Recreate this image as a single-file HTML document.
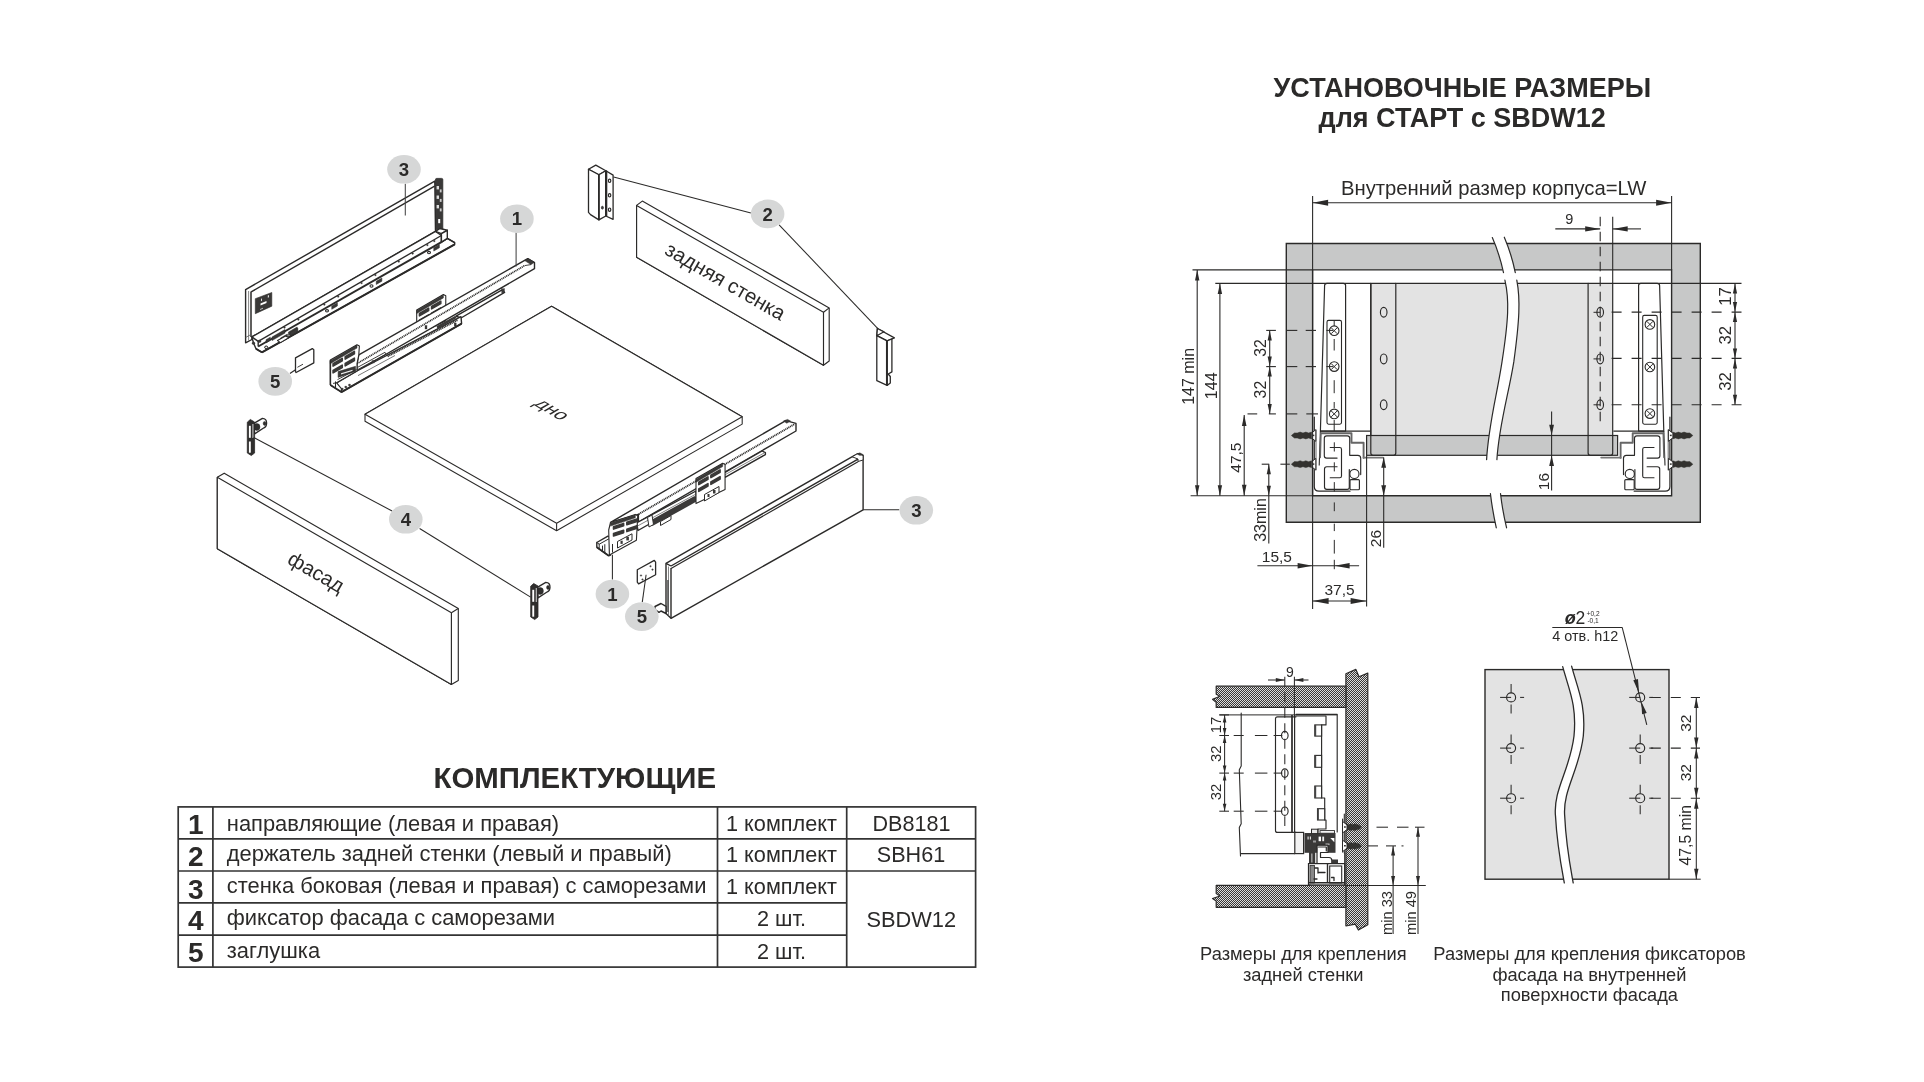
<!DOCTYPE html>
<html><head><meta charset="utf-8"><title>СТАРТ SBDW12</title>
<style>
html,body{margin:0;padding:0;background:#fff;}
body{width:1924px;height:1082px;overflow:hidden;font-family:"Liberation Sans",sans-serif;}
svg{display:block;font-family:"Liberation Sans",sans-serif;will-change:transform;opacity:0.999;}
</style></head><body>
<svg width="1924" height="1082" viewBox="0 0 1924 1082">
<rect width="1924" height="1082" fill="#fff"/>
<text x="574.8" y="788" font-size="29.4" text-anchor="middle" font-weight="bold" fill="#2b2a29" >КОМПЛЕКТУЮЩИЕ</text>
<text x="1462.4" y="96.7" font-size="27" text-anchor="middle" font-weight="bold" fill="#2b2a29" >УСТАНОВОЧНЫЕ РАЗМЕРЫ</text>
<text x="1462.2" y="127.4" font-size="27" text-anchor="middle" font-weight="bold" fill="#2b2a29" >для СТАРТ с SBDW12</text>
<rect x="178.2" y="806.9" width="797.4" height="160.2" rx="0" fill="none" stroke="#333" stroke-width="1.7" />
<line x1="212.9" y1="806.9" x2="212.9" y2="967.1" stroke="#333" stroke-width="1.7" />
<line x1="717.5" y1="806.9" x2="717.5" y2="967.1" stroke="#333" stroke-width="1.7" />
<line x1="846.7" y1="806.9" x2="846.7" y2="967.1" stroke="#333" stroke-width="1.7" />
<line x1="178.2" y1="838.8" x2="975.6" y2="838.8" stroke="#333" stroke-width="1.7" />
<line x1="178.2" y1="871" x2="975.6" y2="871" stroke="#333" stroke-width="1.7" />
<line x1="178.2" y1="902.9" x2="846.7" y2="902.9" stroke="#333" stroke-width="1.7" />
<line x1="178.2" y1="935.1" x2="846.7" y2="935.1" stroke="#333" stroke-width="1.7" />
<text x="195.8" y="833.7" font-size="28" text-anchor="middle" font-weight="bold" fill="#2b2a29" >1</text>
<text x="195.8" y="866.1" font-size="28" text-anchor="middle" font-weight="bold" fill="#2b2a29" >2</text>
<text x="195.8" y="898.5" font-size="28" text-anchor="middle" font-weight="bold" fill="#2b2a29" >3</text>
<text x="195.8" y="929.9" font-size="28" text-anchor="middle" font-weight="bold" fill="#2b2a29" >4</text>
<text x="195.8" y="962.2" font-size="28" text-anchor="middle" font-weight="bold" fill="#2b2a29" >5</text>
<text x="226.8" y="830.6" font-size="21.92" text-anchor="start" fill="#2b2a29" >направляющие (левая и правая)</text>
<text x="226.8" y="860.5" font-size="21.92" text-anchor="start" fill="#2b2a29" >держатель задней стенки (левый и правый)</text>
<text x="226.8" y="892.5" font-size="21.92" text-anchor="start" fill="#2b2a29" >стенка боковая (левая и правая) с саморезами</text>
<text x="226.8" y="924.7" font-size="21.92" text-anchor="start" fill="#2b2a29" >фиксатор фасада с саморезами</text>
<text x="226.8" y="957.8" font-size="21.92" text-anchor="start" fill="#2b2a29" >заглушка</text>
<text x="781.5" y="831" font-size="21.7" text-anchor="middle" fill="#2b2a29" >1 комплект</text>
<text x="781.5" y="861.7" font-size="21.7" text-anchor="middle" fill="#2b2a29" >1 комплект</text>
<text x="781.5" y="893.7" font-size="21.7" text-anchor="middle" fill="#2b2a29" >1 комплект</text>
<text x="781.5" y="926.4" font-size="21.7" text-anchor="middle" fill="#2b2a29" >2 шт.</text>
<text x="781.5" y="959.2" font-size="21.7" text-anchor="middle" fill="#2b2a29" >2 шт.</text>
<text x="911.5" y="831" font-size="21.6" text-anchor="middle" fill="#2b2a29" >DB8181</text>
<text x="911" y="861.8" font-size="21.6" text-anchor="middle" fill="#2b2a29" >SBH61</text>
<text x="911.3" y="927" font-size="21.8" text-anchor="middle" fill="#2b2a29" >SBDW12</text>
<text x="1303.4" y="960.2" font-size="18.3" text-anchor="middle" fill="#2b2a29" >Размеры для крепления</text>
<text x="1303.2" y="980.5" font-size="18.3" text-anchor="middle" fill="#2b2a29" >задней стенки</text>
<text x="1589.6" y="960.2" font-size="18.3" text-anchor="middle" fill="#2b2a29" >Размеры для крепления фиксаторов</text>
<text x="1589.4" y="980.5" font-size="18.3" text-anchor="middle" fill="#2b2a29" >фасада на внутренней</text>
<text x="1589.4" y="1001.1" font-size="18.3" text-anchor="middle" fill="#2b2a29" >поверхности фасада</text>
<path d="M1286.3,243.5 H1700.3 V522.3 H1286.3 Z M1312.6,269.9 V495.8 H1671.6 V269.9 Z" fill="#c7c8c8" fill-rule="evenodd" stroke="#2b2a29" stroke-width="1.4"/>
<rect x="1370.8" y="283.4" width="241.9" height="152.1" rx="0" fill="#e3e3e3" stroke="#2b2a29" stroke-width="0" />
<rect x="1366.6" y="435.5" width="251" height="19.8" rx="0" fill="#c7c8c8" stroke="#2b2a29" stroke-width="1.2" />
<path d="M1320.4,431.1 L1324.6,285.6 Q1324.7,283.4 1327,283.4 L1343.4,283.4 Q1345.6,283.4 1345.6,285.6 L1345.6,431.1 Z" fill="#fff" stroke="#2b2a29" stroke-width="1.2" stroke-linejoin="round" stroke-linecap="round" /><line x1="1320.4" y1="431.1" x2="1319.2" y2="465.4" stroke="#2b2a29" stroke-width="1.1" /><rect x="1327" y="320.4" width="14.5" height="103.8" rx="1.6" fill="#fff" stroke="#2b2a29" stroke-width="1.1" /><circle cx="1334.2" cy="330.7" r="4.8" fill="#fff" stroke="#2b2a29" stroke-width="1.1"/><line x1="1331.22" y1="327.72" x2="1337.18" y2="333.68" stroke="#2b2a29" stroke-width="1" /><line x1="1331.22" y1="333.68" x2="1337.18" y2="327.72" stroke="#2b2a29" stroke-width="1" /><circle cx="1334.2" cy="366.6" r="4.8" fill="#fff" stroke="#2b2a29" stroke-width="1.1"/><line x1="1331.22" y1="363.62" x2="1337.18" y2="369.58" stroke="#2b2a29" stroke-width="1" /><line x1="1331.22" y1="369.58" x2="1337.18" y2="363.62" stroke="#2b2a29" stroke-width="1" /><circle cx="1334.2" cy="413.9" r="4.8" fill="#fff" stroke="#2b2a29" stroke-width="1.1"/><line x1="1331.22" y1="410.92" x2="1337.18" y2="416.88" stroke="#2b2a29" stroke-width="1" /><line x1="1331.22" y1="416.88" x2="1337.18" y2="410.92" stroke="#2b2a29" stroke-width="1" /><line x1="1334.2" y1="339" x2="1334.2" y2="350.5" stroke="#2b2a29" stroke-width="1" /><line x1="1334.2" y1="380.2" x2="1334.2" y2="393.2" stroke="#2b2a29" stroke-width="1" /><line x1="1334.2" y1="402" x2="1334.2" y2="408" stroke="#2b2a29" stroke-width="1" /><line x1="1334.2" y1="321" x2="1334.2" y2="326" stroke="#2b2a29" stroke-width="1" /><line x1="1334.2" y1="420" x2="1334.2" y2="431" stroke="#2b2a29" stroke-width="1" /><line x1="1320.4" y1="431.1" x2="1370.8" y2="431.1" stroke="#2b2a29" stroke-width="1.2" />
<g transform="translate(2984.2 0) scale(-1 1)"><path d="M1320.4,431.1 L1324.6,285.6 Q1324.7,283.4 1327,283.4 L1343.4,283.4 Q1345.6,283.4 1345.6,285.6 L1345.6,431.1 Z" fill="#fff" stroke="#2b2a29" stroke-width="1.2" stroke-linejoin="round" stroke-linecap="round" /><line x1="1320.4" y1="431.1" x2="1319.2" y2="465.4" stroke="#2b2a29" stroke-width="1.1" /><rect x="1327" y="315.4" width="14.5" height="108.8" rx="1.6" fill="#fff" stroke="#2b2a29" stroke-width="1.1" /><circle cx="1334.3" cy="324.4" r="4.8" fill="#fff" stroke="#2b2a29" stroke-width="1.1"/><line x1="1331.32" y1="321.42" x2="1337.28" y2="327.38" stroke="#2b2a29" stroke-width="1" /><line x1="1331.32" y1="327.38" x2="1337.28" y2="321.42" stroke="#2b2a29" stroke-width="1" /><circle cx="1334.3" cy="367" r="4.8" fill="#fff" stroke="#2b2a29" stroke-width="1.1"/><line x1="1331.32" y1="364.02" x2="1337.28" y2="369.98" stroke="#2b2a29" stroke-width="1" /><line x1="1331.32" y1="369.98" x2="1337.28" y2="364.02" stroke="#2b2a29" stroke-width="1" /><circle cx="1334.3" cy="413.6" r="4.8" fill="#fff" stroke="#2b2a29" stroke-width="1.1"/><line x1="1331.32" y1="410.62" x2="1337.28" y2="416.58" stroke="#2b2a29" stroke-width="1" /><line x1="1331.32" y1="416.58" x2="1337.28" y2="410.62" stroke="#2b2a29" stroke-width="1" /><line x1="1320.4" y1="431.1" x2="1370.8" y2="431.1" stroke="#2b2a29" stroke-width="1.2" /></g>
<line x1="1215.3" y1="283.4" x2="1741.5" y2="283.4" stroke="#2b2a29" stroke-width="1.2" />
<path d="M1370.8,283.4 L1370.8,453 Q1370.8,455.3 1373.1,455.3 L1393.5,455.3 Q1395.8,455.3 1395.8,453 L1395.8,283.4" fill="none" stroke="#2b2a29" stroke-width="1.2" stroke-linejoin="round" stroke-linecap="round" />
<path d="M1588.1,283.4 L1588.1,453 Q1588.1,455.3 1590.4,455.3 L1610.4,455.3 Q1612.7,455.3 1612.7,453 L1612.7,283.4" fill="none" stroke="#2b2a29" stroke-width="1.2" stroke-linejoin="round" stroke-linecap="round" />
<line x1="1370.8" y1="283.4" x2="1370.8" y2="436" stroke="#2b2a29" stroke-width="1.3" />
<ellipse cx="1383.7" cy="312.3" rx="3.3" ry="4.9" fill="none" stroke="#2b2a29" stroke-width="1.15"/>
<ellipse cx="1600.2" cy="312.3" rx="3.3" ry="4.9" fill="none" stroke="#2b2a29" stroke-width="1.15"/>
<line x1="1593.5" y1="312.3" x2="1600.2" y2="312.3" stroke="#2b2a29" stroke-width="1" />
<ellipse cx="1383.7" cy="358.9" rx="3.3" ry="4.9" fill="none" stroke="#2b2a29" stroke-width="1.15"/>
<ellipse cx="1600.2" cy="358.9" rx="3.3" ry="4.9" fill="none" stroke="#2b2a29" stroke-width="1.15"/>
<line x1="1593.5" y1="358.9" x2="1600.2" y2="358.9" stroke="#2b2a29" stroke-width="1" />
<ellipse cx="1383.7" cy="404.8" rx="3.3" ry="4.9" fill="none" stroke="#2b2a29" stroke-width="1.15"/>
<ellipse cx="1600.2" cy="404.8" rx="3.3" ry="4.9" fill="none" stroke="#2b2a29" stroke-width="1.15"/>
<line x1="1593.5" y1="404.8" x2="1600.2" y2="404.8" stroke="#2b2a29" stroke-width="1" />
<path d="M1320.9,433.3 L1351.5,433.3 L1351.5,442.7 L1363.6,442.7 L1363.6,457.9" fill="none" stroke="#666" stroke-width="1.9" stroke-linejoin="round" stroke-linecap="round" /><path d="M1320.9,433.3 L1320.2,457.4" fill="none" stroke="#666" stroke-width="1.6" stroke-linejoin="round" stroke-linecap="round" /><path d="M1363.6,457.6 L1383,457.6" fill="none" stroke="#777" stroke-width="1.8" stroke-linejoin="round" stroke-linecap="round" /><path d="M1314.3,417 L1314.3,486.5 Q1314.3,491.2 1319,491.2 L1350,491.2" fill="none" stroke="#2b2a29" stroke-width="1.2" stroke-linejoin="round" stroke-linecap="round" /><path d="M1316,430 L1316,470" fill="none" stroke="#555" stroke-width="0.9" stroke-linejoin="round" stroke-linecap="round" /><path d="M1337.1,458.1 L1326.6,458.1 Q1324.3,458.1 1324.3,455.8 L1324.3,438.2 Q1324.3,435.8 1326.7,435.8 L1347.4,435.8 Q1349.7,435.8 1349.7,438.2 L1349.7,455.3 L1357.8,455.3 Q1360.7,455.3 1360.7,458.3 L1360.7,474.6" fill="none" stroke="#2b2a29" stroke-width="1.15" stroke-linejoin="round" stroke-linecap="round" /><path d="M1330.2,447.5 L1339.7,447.5 Q1341.5,447.5 1341.5,449.3 L1341.5,475.9 Q1341.5,477.7 1339.7,477.7 L1330.2,477.7" fill="none" stroke="#2b2a29" stroke-width="1.15" stroke-linejoin="round" stroke-linecap="round" /><path d="M1337.1,466.7 L1326.8,466.7 Q1324.5,466.7 1324.5,469 L1324.5,487 Q1324.5,489.3 1326.8,489.3 L1347.2,489.3 Q1349.3,489.3 1349.3,487.2 L1349.3,469.5" fill="none" stroke="#2b2a29" stroke-width="1.15" stroke-linejoin="round" stroke-linecap="round" /><circle cx="1354.4" cy="473.9" r="4.6" fill="#fff" stroke="#2b2a29" stroke-width="1.15"/><rect x="1350" y="479.6" width="9.4" height="10.1" rx="1" fill="#fff" stroke="#2b2a29" stroke-width="1.15" />
<g transform="translate(2984.2 0) scale(-1 1)"><path d="M1320.9,433.3 L1351.5,433.3 L1351.5,442.7 L1363.6,442.7 L1363.6,457.9" fill="none" stroke="#666" stroke-width="1.9" stroke-linejoin="round" stroke-linecap="round" /><path d="M1320.9,433.3 L1320.2,457.4" fill="none" stroke="#666" stroke-width="1.6" stroke-linejoin="round" stroke-linecap="round" /><path d="M1363.6,457.6 L1383,457.6" fill="none" stroke="#777" stroke-width="1.8" stroke-linejoin="round" stroke-linecap="round" /><path d="M1314.3,417 L1314.3,486.5 Q1314.3,491.2 1319,491.2 L1350,491.2" fill="none" stroke="#2b2a29" stroke-width="1.2" stroke-linejoin="round" stroke-linecap="round" /><path d="M1316,430 L1316,470" fill="none" stroke="#555" stroke-width="0.9" stroke-linejoin="round" stroke-linecap="round" /><path d="M1337.1,458.1 L1326.6,458.1 Q1324.3,458.1 1324.3,455.8 L1324.3,438.2 Q1324.3,435.8 1326.7,435.8 L1347.4,435.8 Q1349.7,435.8 1349.7,438.2 L1349.7,455.3 L1357.8,455.3 Q1360.7,455.3 1360.7,458.3 L1360.7,474.6" fill="none" stroke="#2b2a29" stroke-width="1.15" stroke-linejoin="round" stroke-linecap="round" /><path d="M1330.2,447.5 L1339.7,447.5 Q1341.5,447.5 1341.5,449.3 L1341.5,475.9 Q1341.5,477.7 1339.7,477.7 L1330.2,477.7" fill="none" stroke="#2b2a29" stroke-width="1.15" stroke-linejoin="round" stroke-linecap="round" /><path d="M1337.1,466.7 L1326.8,466.7 Q1324.5,466.7 1324.5,469 L1324.5,487 Q1324.5,489.3 1326.8,489.3 L1347.2,489.3 Q1349.3,489.3 1349.3,487.2 L1349.3,469.5" fill="none" stroke="#2b2a29" stroke-width="1.15" stroke-linejoin="round" stroke-linecap="round" /><circle cx="1354.4" cy="473.9" r="4.6" fill="#fff" stroke="#2b2a29" stroke-width="1.15"/><rect x="1350" y="479.6" width="9.4" height="10.1" rx="1" fill="#fff" stroke="#2b2a29" stroke-width="1.15" /></g>
<polygon points="1291.6,435.2 1294.44,432.91 1297.29,433 1300.13,432.1 1302.97,433 1305.81,432.1 1308.66,433 1311.5,432.1 1311.5,438.9 1308.66,438 1305.81,438.9 1302.97,438 1300.13,438.9 1297.29,438 1294.44,438.09 1291.6,435.8" fill="#33322f" stroke="#33322f" stroke-width="0.5" stroke-linejoin="round" /><polygon points="1311.3,433.2 1315.8,429.7 1315.8,441.3 1311.3,437.8" fill="#fff" stroke="#2b2a29" stroke-width="1" stroke-linejoin="round" /><line x1="1312.5" y1="435.4" x2="1314.3" y2="435.4" stroke="#33322f" stroke-width="1.5" />
<polygon points="1692.6,435.2 1689.76,432.91 1686.91,433 1684.07,432.1 1681.23,433 1678.39,432.1 1675.54,433 1672.7,432.1 1672.7,438.9 1675.54,438 1678.39,438.9 1681.23,438 1684.07,438.9 1686.91,438 1689.76,438.09 1692.6,435.8" fill="#33322f" stroke="#33322f" stroke-width="0.5" stroke-linejoin="round" /><polygon points="1672.9,433.2 1668.4,429.7 1668.4,441.3 1672.9,437.8" fill="#fff" stroke="#2b2a29" stroke-width="1" stroke-linejoin="round" /><line x1="1671.7" y1="435.4" x2="1669.9" y2="435.4" stroke="#33322f" stroke-width="1.5" />
<polygon points="1291.6,463.9 1294.44,461.61 1297.29,461.7 1300.13,460.8 1302.97,461.7 1305.81,460.8 1308.66,461.7 1311.5,460.8 1311.5,467.6 1308.66,466.7 1305.81,467.6 1302.97,466.7 1300.13,467.6 1297.29,466.7 1294.44,466.79 1291.6,464.5" fill="#33322f" stroke="#33322f" stroke-width="0.5" stroke-linejoin="round" /><polygon points="1311.3,461.9 1315.8,458.4 1315.8,470 1311.3,466.5" fill="#fff" stroke="#2b2a29" stroke-width="1" stroke-linejoin="round" /><line x1="1312.5" y1="464.1" x2="1314.3" y2="464.1" stroke="#33322f" stroke-width="1.5" />
<polygon points="1692.6,463.9 1689.76,461.61 1686.91,461.7 1684.07,460.8 1681.23,461.7 1678.39,460.8 1675.54,461.7 1672.7,460.8 1672.7,467.6 1675.54,466.7 1678.39,467.6 1681.23,466.7 1684.07,467.6 1686.91,466.7 1689.76,466.79 1692.6,464.5" fill="#33322f" stroke="#33322f" stroke-width="0.5" stroke-linejoin="round" /><polygon points="1672.9,461.9 1668.4,458.4 1668.4,470 1672.9,466.5" fill="#fff" stroke="#2b2a29" stroke-width="1" stroke-linejoin="round" /><line x1="1671.7" y1="464.1" x2="1669.9" y2="464.1" stroke="#33322f" stroke-width="1.5" />
<line x1="1334.3" y1="442.3" x2="1334.3" y2="451.5" stroke="#2b2a29" stroke-width="1" />
<line x1="1334.3" y1="462.3" x2="1334.3" y2="471.4" stroke="#2b2a29" stroke-width="1" />
<line x1="1334.3" y1="482.1" x2="1334.3" y2="491.5" stroke="#2b2a29" stroke-width="1" />
<line x1="1334.3" y1="502.4" x2="1334.3" y2="511.2" stroke="#2b2a29" stroke-width="1" />
<line x1="1334.3" y1="523.7" x2="1334.3" y2="531.1" stroke="#2b2a29" stroke-width="1" />
<line x1="1334.3" y1="539.9" x2="1334.3" y2="553.6" stroke="#2b2a29" stroke-width="1" />
<line x1="1334.3" y1="559.8" x2="1334.3" y2="569.2" stroke="#2b2a29" stroke-width="1" />
<path d="M1494.2,241.5 L1496,247 L1499.6,258 L1502.6,270.6 L1502.6,271.2 L1514.4,271.2 L1514.4,270.6 L1511.4,258 L1508,247 L1506.2,241.5 Z" fill="#fff" stroke="none"/>
<path d="M1492.3,237.6 Q1499.5,254 1503.5,272.6" fill="none" stroke="#2b2a29" stroke-width="1.2" stroke-linejoin="round" stroke-linecap="round" />
<path d="M1504.3,237.2 Q1511.5,254 1515.3,272.6" fill="none" stroke="#2b2a29" stroke-width="1.2" stroke-linejoin="round" stroke-linecap="round" />
<path d="M1504.9,280.2 C1509.5,300 1508.5,320 1502,361.9 C1497,395 1488.5,425 1486.6,459.6 L1496.9,459.6 C1499,425 1508.5,395 1513.8,361.9 C1519.5,320 1520.5,300 1516.8,280.2 Z" fill="#fff"/>
<path d="M1504.9,280.2 C1509.5,300 1508.5,320 1502,361.9 C1497,395 1488.5,425 1486.6,459.6" fill="none" stroke="#2b2a29" stroke-width="1.2" stroke-linejoin="round" stroke-linecap="round" />
<path d="M1516.8,280.2 C1520.5,300 1519.5,320 1513.8,361.9 C1508.5,395 1499,425 1496.9,459.6" fill="none" stroke="#2b2a29" stroke-width="1.2" stroke-linejoin="round" stroke-linecap="round" />
<path d="M1490.6,494.9 Q1492.5,511 1496.3,527.6 L1506.6,527.6 Q1502.5,511 1500.7,494.9 Z" fill="#fff"/>
<path d="M1490.4,493.5 Q1492.5,511 1496.3,527.8" fill="none" stroke="#2b2a29" stroke-width="1.2" stroke-linejoin="round" stroke-linecap="round" />
<path d="M1500.5,493.5 Q1502.5,511 1506.6,527.8" fill="none" stroke="#2b2a29" stroke-width="1.2" stroke-linejoin="round" stroke-linecap="round" />
<line x1="1312.6" y1="196" x2="1312.6" y2="609" stroke="#2b2a29" stroke-width="1.1" />
<line x1="1671.6" y1="196" x2="1671.6" y2="270" stroke="#2b2a29" stroke-width="1.1" />
<line x1="1312.6" y1="202.8" x2="1671.6" y2="202.8" stroke="#2b2a29" stroke-width="1.1" />
<polygon points="1312.6,202.8 1328.1,199.8 1328.1,205.8" fill="#2b2a29"/>
<polygon points="1671.6,202.8 1656.1,205.8 1656.1,199.8" fill="#2b2a29"/>
<text x="1341" y="194.7" font-size="20.25" text-anchor="start" fill="#2b2a29" >Внутренний размер корпуса=LW</text>
<line x1="1600.2" y1="216.8" x2="1600.2" y2="424" stroke="#2b2a29" stroke-width="1.1" stroke-dasharray="9.5 5.5" stroke-dashoffset="0"/>
<line x1="1612.7" y1="216.8" x2="1612.7" y2="283.4" stroke="#2b2a29" stroke-width="1.1" />
<line x1="1555.3" y1="228.9" x2="1600.2" y2="228.9" stroke="#2b2a29" stroke-width="1.1" />
<line x1="1612.7" y1="228.9" x2="1641" y2="228.9" stroke="#2b2a29" stroke-width="1.1" />
<polygon points="1600.2,228.9 1585.2,231.5 1585.2,226.3" fill="#2b2a29"/>
<polygon points="1612.7,228.9 1627.7,226.3 1627.7,231.5" fill="#2b2a29"/>
<text x="1569.4" y="224.3" font-size="14.5" text-anchor="middle" fill="#2b2a29" >9</text>
<line x1="1192.5" y1="269.9" x2="1312.6" y2="269.9" stroke="#2b2a29" stroke-width="1.1" />
<line x1="1190.6" y1="495.8" x2="1312.6" y2="495.8" stroke="#2b2a29" stroke-width="1.1" />
<line x1="1197.2" y1="269.9" x2="1197.2" y2="495.8" stroke="#2b2a29" stroke-width="1.1" />
<polygon points="1197.2,269.9 1199.4,280.4 1195,280.4" fill="#2b2a29"/>
<polygon points="1197.2,495.8 1195,485.3 1199.4,485.3" fill="#2b2a29"/>
<line x1="1219.9" y1="283.4" x2="1219.9" y2="495.8" stroke="#2b2a29" stroke-width="1.1" />
<polygon points="1219.9,283.4 1222.1,293.9 1217.7,293.9" fill="#2b2a29"/>
<polygon points="1219.9,495.8 1217.7,485.3 1222.1,485.3" fill="#2b2a29"/>
<text x="1194.2" y="376.4" font-size="16" text-anchor="middle" transform="rotate(-90 1194.2 376.4)" fill="#2b2a29" >147 min</text>
<text x="1217.4" y="385.8" font-size="16" text-anchor="middle" transform="rotate(-90 1217.4 385.8)" fill="#2b2a29" >144</text>
<line x1="1266.2" y1="330.4" x2="1275.9" y2="330.4" stroke="#2b2a29" stroke-width="1.1" />
<line x1="1286.9" y1="330.4" x2="1297.3" y2="330.4" stroke="#2b2a29" stroke-width="1.1" />
<line x1="1305.7" y1="330.4" x2="1316" y2="330.4" stroke="#2b2a29" stroke-width="1.1" />
<line x1="1266.2" y1="366.6" x2="1275.9" y2="366.6" stroke="#2b2a29" stroke-width="1.1" />
<line x1="1286.9" y1="366.6" x2="1297.3" y2="366.6" stroke="#2b2a29" stroke-width="1.1" />
<line x1="1305.7" y1="366.6" x2="1316" y2="366.6" stroke="#2b2a29" stroke-width="1.1" />
<line x1="1247.5" y1="413.9" x2="1257.2" y2="413.9" stroke="#2b2a29" stroke-width="1.1" />
<line x1="1268.8" y1="413.9" x2="1275.9" y2="413.9" stroke="#2b2a29" stroke-width="1.1" />
<line x1="1286.9" y1="413.9" x2="1297.3" y2="413.9" stroke="#2b2a29" stroke-width="1.1" />
<line x1="1306.3" y1="413.9" x2="1318" y2="413.9" stroke="#2b2a29" stroke-width="1.1" />
<line x1="1326.4" y1="330.4" x2="1333" y2="330.4" stroke="#2b2a29" stroke-width="1" />
<line x1="1326.4" y1="366.6" x2="1333" y2="366.6" stroke="#2b2a29" stroke-width="1" />
<line x1="1269.7" y1="330.4" x2="1269.7" y2="413.9" stroke="#2b2a29" stroke-width="1.1" />
<polygon points="1269.7,330.4 1271.8,340.4 1267.6,340.4" fill="#2b2a29"/>
<polygon points="1269.7,366.6 1267.6,356.6 1271.8,356.6" fill="#2b2a29"/>
<polygon points="1269.7,366.6 1271.8,376.6 1267.6,376.6" fill="#2b2a29"/>
<polygon points="1269.7,413.9 1267.6,403.9 1271.8,403.9" fill="#2b2a29"/>
<text x="1265.8" y="347.9" font-size="15.8" text-anchor="middle" transform="rotate(-90 1265.8 347.9)" fill="#2b2a29" >32</text>
<text x="1265.8" y="389.6" font-size="15.8" text-anchor="middle" transform="rotate(-90 1265.8 389.6)" fill="#2b2a29" >32</text>
<line x1="1244.2" y1="414.9" x2="1244.2" y2="495.8" stroke="#2b2a29" stroke-width="1.1" />
<polygon points="1244.2,414.9 1246.5,425.9 1241.9,425.9" fill="#2b2a29"/>
<polygon points="1244.2,495.8 1241.9,484.8 1246.5,484.8" fill="#2b2a29"/>
<text x="1241" y="457.6" font-size="15.5" text-anchor="middle" transform="rotate(-90 1241 457.6)" fill="#2b2a29" >47,5</text>
<line x1="1261.7" y1="464.2" x2="1269.2" y2="464.2" stroke="#2b2a29" stroke-width="1.1" />
<line x1="1280.4" y1="464.2" x2="1289.8" y2="464.2" stroke="#2b2a29" stroke-width="1.1" />
<line x1="1268.8" y1="464.2" x2="1268.8" y2="543.6" stroke="#2b2a29" stroke-width="1.1" />
<polygon points="1268.8,464.2 1270.9,474.2 1266.7,474.2" fill="#2b2a29"/>
<polygon points="1268.8,495.8 1266.7,485.8 1270.9,485.8" fill="#2b2a29"/>
<text x="1266.4" y="520" font-size="16" text-anchor="middle" transform="rotate(-90 1266.4 520)" fill="#2b2a29" >33min</text>
<line x1="1383.7" y1="457.5" x2="1383.7" y2="547.7" stroke="#2b2a29" stroke-width="1.1" />
<polygon points="1383.7,457.3 1386.1,467.8 1381.3,467.8" fill="#2b2a29"/>
<polygon points="1383.7,495.8 1381.3,485.3 1386.1,485.3" fill="#2b2a29"/>
<text x="1381.2" y="538.6" font-size="15.5" text-anchor="middle" transform="rotate(-90 1381.2 538.6)" fill="#2b2a29" >26</text>
<line x1="1366.6" y1="455.3" x2="1366.6" y2="606.6" stroke="#2b2a29" stroke-width="1.1" />
<line x1="1257.4" y1="565.8" x2="1359.1" y2="565.8" stroke="#2b2a29" stroke-width="1.1" />
<polygon points="1312.6,565.8 1297.6,568.6 1297.6,563" fill="#2b2a29"/>
<polygon points="1334.6,565.8 1349.6,563 1349.6,568.6" fill="#2b2a29"/>
<text x="1261.8" y="561.7" font-size="15.5" text-anchor="start" fill="#2b2a29" >15,5</text>
<line x1="1312.6" y1="601" x2="1366.6" y2="601" stroke="#2b2a29" stroke-width="1.1" />
<polygon points="1312.6,601 1328.6,598.1 1328.6,603.9" fill="#2b2a29"/>
<polygon points="1366.6,601 1350.6,603.9 1350.6,598.1" fill="#2b2a29"/>
<text x="1339.5" y="595.4" font-size="15.5" text-anchor="middle" fill="#2b2a29" >37,5</text>
<line x1="1551.6" y1="411.5" x2="1551.6" y2="490.5" stroke="#2b2a29" stroke-width="1.1" />
<polygon points="1551.6,435.2 1549.2,424.7 1554,424.7" fill="#2b2a29"/>
<polygon points="1551.6,455.5 1554,466 1549.2,466" fill="#2b2a29"/>
<text x="1549.2" y="481.6" font-size="15.5" text-anchor="middle" transform="rotate(-90 1549.2 481.6)" fill="#2b2a29" >16</text>
<line x1="1611.6" y1="312.1" x2="1741.5" y2="312.1" stroke="#2b2a29" stroke-width="1.1" stroke-dasharray="10 10" stroke-dashoffset="0"/>
<line x1="1611.6" y1="358.4" x2="1741.5" y2="358.4" stroke="#2b2a29" stroke-width="1.1" stroke-dasharray="10 10" stroke-dashoffset="0"/>
<line x1="1611.6" y1="404.8" x2="1741.5" y2="404.8" stroke="#2b2a29" stroke-width="1.1" stroke-dasharray="10 10" stroke-dashoffset="0"/>
<line x1="1735" y1="283.4" x2="1735" y2="404.8" stroke="#2b2a29" stroke-width="1.1" />
<polygon points="1735,283.4 1737.1,293.4 1732.9,293.4" fill="#2b2a29"/>
<polygon points="1735,312.1 1732.9,302.1 1737.1,302.1" fill="#2b2a29"/>
<polygon points="1735,312.1 1737.1,322.1 1732.9,322.1" fill="#2b2a29"/>
<polygon points="1735,358.4 1732.9,348.4 1737.1,348.4" fill="#2b2a29"/>
<polygon points="1735,358.4 1737.1,368.4 1732.9,368.4" fill="#2b2a29"/>
<polygon points="1735,404.8 1732.9,394.8 1737.1,394.8" fill="#2b2a29"/>
<text x="1731.3" y="296.4" font-size="16.8" text-anchor="middle" transform="rotate(-90 1731.3 296.4)" fill="#2b2a29" >17</text>
<text x="1731.3" y="335.2" font-size="16.8" text-anchor="middle" transform="rotate(-90 1731.3 335.2)" fill="#2b2a29" >32</text>
<text x="1731.3" y="381.4" font-size="16.8" text-anchor="middle" transform="rotate(-90 1731.3 381.4)" fill="#2b2a29" >32</text>
<defs>
<pattern id="hatch" width="2" height="2" patternUnits="userSpaceOnUse">
<rect width="2" height="2" fill="#dcdcdc"/><rect x="0" y="1" width="1" height="1" fill="#383736" shape-rendering="crispEdges"/><rect x="1" y="0" width="1" height="1" fill="#383736" shape-rendering="crispEdges"/>
</pattern></defs>
<polygon points="1345.9,673.7 1355.9,669.4 1359,676.8 1367.8,673.1 1367.8,924.7 1358.4,930 1355.3,924.1 1345.9,926" fill="url(#hatch)" stroke="#2b2a29" stroke-width="1.2" stroke-linejoin="round" />
<polygon points="1216.2,686.2 1345.9,686.2 1345.9,707.4 1216.2,707.4 1216.2,702.4 1212.5,699.3 1220,696.2 1216.2,694.3" fill="url(#hatch)" stroke="#2b2a29" stroke-width="1.2" stroke-linejoin="round" />
<polygon points="1216.2,885.4 1345.9,885.4 1345.9,907.3 1216.2,907.3 1216.2,901 1212.5,898.5 1220,896 1216.2,893.5" fill="url(#hatch)" stroke="#2b2a29" stroke-width="1.2" stroke-linejoin="round" />
<line x1="1219.3" y1="714.9" x2="1337.2" y2="714.9" stroke="#2b2a29" stroke-width="1" />
<path d="M1241.2,713 L1241.2,766 L1239.3,769.8 L1241.2,823.7 L1239.3,827.4 L1240.5,856" fill="none" stroke="#2b2a29" stroke-width="1.1" stroke-linejoin="round" stroke-linecap="round" />
<line x1="1240.5" y1="853.6" x2="1295" y2="853.6" stroke="#2b2a29" stroke-width="1.2" />
<path d="M1296,716.8 L1277.5,716.8 Q1275.5,716.8 1275.5,718.8 L1275.5,830.4 Q1275.5,832.4 1277.5,832.4 L1296,832.4" fill="#fff" stroke="#2b2a29" stroke-width="1.15" stroke-linejoin="round" stroke-linecap="round" />
<line x1="1292" y1="714.9" x2="1292" y2="832.4" stroke="#2b2a29" stroke-width="1.7" />
<line x1="1294.6" y1="714.9" x2="1294.6" y2="832.4" stroke="#2b2a29" stroke-width="1.2" />
<path d="M1296,714.3 L1337.2,714.3 L1337.2,832" fill="none" stroke="#2b2a29" stroke-width="1.15" stroke-linejoin="round" stroke-linecap="round" />
<path d="M1296,716 L1326,716 L1326,724.9 L1321.6,724.9 L1321.6,736.1 L1321.6,755.4 L1321.6,767.3 L1321.6,786 L1321.6,798 L1324.7,798 L1324.7,808.7 L1324.7,820 L1326,820 L1326,829 L1318,829 L1318,832.4" fill="none" stroke="#2b2a29" stroke-width="1.15" stroke-linejoin="round" stroke-linecap="round" />
<rect x="1314.8" y="724.9" width="6.8" height="11.2" rx="0" fill="#fff" stroke="#2b2a29" stroke-width="1.1" />
<line x1="1315.4" y1="724.9" x2="1315.4" y2="736.1" stroke="#444" stroke-width="1.6" />
<rect x="1314.8" y="755.4" width="6.8" height="11.9" rx="0" fill="#fff" stroke="#2b2a29" stroke-width="1.1" />
<line x1="1315.4" y1="755.4" x2="1315.4" y2="767.3" stroke="#444" stroke-width="1.6" />
<rect x="1314.8" y="786" width="6.8" height="12" rx="0" fill="#fff" stroke="#2b2a29" stroke-width="1.1" />
<line x1="1315.4" y1="786" x2="1315.4" y2="798" stroke="#444" stroke-width="1.6" />
<rect x="1317.5" y="808.7" width="7.2" height="11.3" rx="0" fill="#fff" stroke="#2b2a29" stroke-width="1.1" />
<line x1="1318.1" y1="808.7" x2="1318.1" y2="820" stroke="#444" stroke-width="1.6" />
<ellipse cx="1284.8" cy="735.5" rx="3.3" ry="4.2" fill="none" stroke="#2b2a29" stroke-width="1.15"/>
<ellipse cx="1284.8" cy="773.1" rx="3.3" ry="4.2" fill="none" stroke="#2b2a29" stroke-width="1.15"/>
<ellipse cx="1284.8" cy="811.2" rx="3.3" ry="4.2" fill="none" stroke="#2b2a29" stroke-width="1.15"/>
<line x1="1284.8" y1="676.8" x2="1284.8" y2="826" stroke="#2b2a29" stroke-width="1.05" stroke-dasharray="10 5.5" stroke-dashoffset="0"/>
<line x1="1294.4" y1="676.8" x2="1294.4" y2="714.9" stroke="#2b2a29" stroke-width="1.05" />
<line x1="1219.3" y1="735.5" x2="1229" y2="735.5" stroke="#2b2a29" stroke-width="1.05" />
<line x1="1233.7" y1="735.5" x2="1243.7" y2="735.5" stroke="#2b2a29" stroke-width="1.05" />
<line x1="1254.9" y1="735.5" x2="1267.4" y2="735.5" stroke="#2b2a29" stroke-width="1.05" />
<line x1="1273.6" y1="735.5" x2="1282.3" y2="735.5" stroke="#2b2a29" stroke-width="1.05" />
<line x1="1219.3" y1="773.1" x2="1229" y2="773.1" stroke="#2b2a29" stroke-width="1.05" />
<line x1="1233.7" y1="773.1" x2="1243.7" y2="773.1" stroke="#2b2a29" stroke-width="1.05" />
<line x1="1254.9" y1="773.1" x2="1267.4" y2="773.1" stroke="#2b2a29" stroke-width="1.05" />
<line x1="1273.6" y1="773.1" x2="1282.3" y2="773.1" stroke="#2b2a29" stroke-width="1.05" />
<line x1="1219.3" y1="811.2" x2="1229" y2="811.2" stroke="#2b2a29" stroke-width="1.05" />
<line x1="1233.7" y1="811.2" x2="1243.7" y2="811.2" stroke="#2b2a29" stroke-width="1.05" />
<line x1="1254.9" y1="811.2" x2="1267.4" y2="811.2" stroke="#2b2a29" stroke-width="1.05" />
<line x1="1273.6" y1="811.2" x2="1282.3" y2="811.2" stroke="#2b2a29" stroke-width="1.05" />
<line x1="1219.3" y1="714.9" x2="1229" y2="714.9" stroke="#2b2a29" stroke-width="1.05" />
<rect x="1294.8" y="832.4" width="8.8" height="21.2" rx="0" fill="#f2f2f2" stroke="#2b2a29" stroke-width="1.2" />
<rect x="1304.5" y="833" width="31" height="19.8" rx="0" fill="#3a3938" stroke="#2b2a29" stroke-width="0" />
<rect x="1311.5" y="829.2" width="6.2" height="4.4" rx="0" fill="#e8e8e8" stroke="#2b2a29" stroke-width="1" />
<rect x="1320" y="830.6" width="14.5" height="2.6" rx="0" fill="#fff" stroke="#2b2a29" stroke-width="0.9" />
<rect x="1318.6" y="836.6" width="2.4" height="4.6" rx="0" fill="#fff" stroke="#2b2a29" stroke-width="0" />
<rect x="1322.3" y="836.6" width="1.8" height="4.6" rx="0" fill="#eee" stroke="#2b2a29" stroke-width="0" />
<polygon points="1330.3,838 1334.3,838 1334.3,842.2" fill="#fff" stroke="#2b2a29" stroke-width="0" stroke-linejoin="round" />
<rect x="1307.5" y="836.5" width="1.2" height="3" rx="0" fill="#ddd" stroke="#2b2a29" stroke-width="0" />
<rect x="1309.8" y="836.5" width="1.2" height="3" rx="0" fill="#ddd" stroke="#2b2a29" stroke-width="0" />
<rect x="1313" y="840.5" width="3" height="2" rx="0" fill="#999" stroke="#2b2a29" stroke-width="0" />
<rect x="1325.5" y="843.5" width="4" height="1.6" rx="0" fill="#bbb" stroke="#2b2a29" stroke-width="0" />
<rect x="1317.3" y="845.5" width="10.5" height="7.5" rx="0" fill="#fff" stroke="#2b2a29" stroke-width="0" />
<rect x="1309" y="852" width="6.2" height="12" rx="0" fill="#3a3938" stroke="#2b2a29" stroke-width="0" />
<rect x="1311" y="853.5" width="1.6" height="9" rx="0" fill="#999" stroke="#2b2a29" stroke-width="0" />
<path d="M1317,845 L1317,864 M1317,845.2 L1328,845.2 L1328,852.5 L1320.5,852.5 L1320.5,857.5 L1329,857.5 Q1331.8,857.5 1331.8,860.5 L1331.8,864 M1318.5,847 L1326.3,847 L1326.3,851" fill="none" stroke="#2b2a29" stroke-width="1.2" stroke-linejoin="round" stroke-linecap="round" />
<rect x="1332" y="859.5" width="6" height="4.5" rx="0" fill="#3a3938" stroke="#2b2a29" stroke-width="0" />
<rect x="1308.5" y="863.6" width="36.2" height="21.2" rx="0" fill="#fff" stroke="#2b2a29" stroke-width="1.2" />
<rect x="1310" y="865.5" width="4.5" height="17.5" rx="0" fill="#888" stroke="#2b2a29" stroke-width="0.8" />
<rect x="1329.7" y="866" width="12" height="17" rx="0" fill="#fff" stroke="#2b2a29" stroke-width="1.1" />
<path d="M1315,868 L1318,868 L1318,873 M1319,872.5 L1325,872.5 M1314,879 L1317,879 M1331.5,877.5 L1334,877.5 L1334,880.5" fill="none" stroke="#2b2a29" stroke-width="1.3" stroke-linejoin="round" stroke-linecap="round" />
<line x1="1308.5" y1="882.8" x2="1344.7" y2="882.8" stroke="#2b2a29" stroke-width="1.4" />
<line x1="1327.5" y1="863.6" x2="1327.5" y2="882.8" stroke="#2b2a29" stroke-width="1.4" />
<line x1="1310.5" y1="884.6" x2="1344.7" y2="884.6" stroke="#777" stroke-width="1.2" />
<path d="M1344.3,814 L1344.3,853 M1342.6,819 L1342.6,852" fill="none" stroke="#2b2a29" stroke-width="1.1" stroke-linejoin="round" stroke-linecap="round" />
<path d="M1344.7,853 L1344.7,884.8" fill="none" stroke="#2b2a29" stroke-width="1.1" stroke-linejoin="round" stroke-linecap="round" />
<polygon points="1361.2,826.9 1359.14,824.94 1357.09,824.79 1355.03,823.8 1352.97,824.7 1350.91,823.8 1348.86,824.7 1346.8,823.8 1346.8,830.6 1348.86,829.7 1350.91,830.6 1352.97,829.7 1355.03,830.6 1357.09,829.61 1359.14,829.46 1361.2,827.5" fill="#33322f" stroke="#33322f" stroke-width="0.5" stroke-linejoin="round" /><polygon points="1347,824.9 1342.5,821.4 1342.5,833 1347,829.5" fill="#fff" stroke="#2b2a29" stroke-width="1" stroke-linejoin="round" /><line x1="1345.8" y1="827.1" x2="1344" y2="827.1" stroke="#33322f" stroke-width="1.5" />
<polygon points="1361.2,845.6 1359.14,843.64 1357.09,843.49 1355.03,842.5 1352.97,843.4 1350.91,842.5 1348.86,843.4 1346.8,842.5 1346.8,849.3 1348.86,848.4 1350.91,849.3 1352.97,848.4 1355.03,849.3 1357.09,848.31 1359.14,848.16 1361.2,846.2" fill="#33322f" stroke="#33322f" stroke-width="0.5" stroke-linejoin="round" /><polygon points="1347,843.6 1342.5,840.1 1342.5,851.7 1347,848.2" fill="#fff" stroke="#2b2a29" stroke-width="1" stroke-linejoin="round" /><line x1="1345.8" y1="845.8" x2="1344" y2="845.8" stroke="#33322f" stroke-width="1.5" />
<text x="1290" y="676.8" font-size="14" text-anchor="middle" fill="#2b2a29" >9</text>
<line x1="1268" y1="680" x2="1284.8" y2="680" stroke="#2b2a29" stroke-width="1.05" />
<line x1="1294.4" y1="680" x2="1308.5" y2="680" stroke="#2b2a29" stroke-width="1.05" />
<polygon points="1284.8,680 1275.8,681.9 1275.8,678.1" fill="#2b2a29"/>
<polygon points="1294.4,680 1303.4,678.1 1303.4,681.9" fill="#2b2a29"/>
<line x1="1224.6" y1="714.9" x2="1224.6" y2="811.2" stroke="#2b2a29" stroke-width="1.05" />
<polygon points="1224.6,714.9 1226.4,722.4 1222.8,722.4" fill="#2b2a29"/>
<polygon points="1224.6,735.5 1222.8,728 1226.4,728" fill="#2b2a29"/>
<polygon points="1224.6,735.5 1226.4,743 1222.8,743" fill="#2b2a29"/>
<polygon points="1224.6,773.1 1222.8,765.6 1226.4,765.6" fill="#2b2a29"/>
<polygon points="1224.6,773.1 1226.4,780.6 1222.8,780.6" fill="#2b2a29"/>
<polygon points="1224.6,811.2 1222.8,803.7 1226.4,803.7" fill="#2b2a29"/>
<text x="1220.6" y="725" font-size="14.8" text-anchor="middle" transform="rotate(-90 1220.6 725)" fill="#2b2a29" >17</text>
<text x="1220.6" y="753.7" font-size="14.8" text-anchor="middle" transform="rotate(-90 1220.6 753.7)" fill="#2b2a29" >32</text>
<text x="1220.6" y="791.9" font-size="14.8" text-anchor="middle" transform="rotate(-90 1220.6 791.9)" fill="#2b2a29" >32</text>
<line x1="1345.9" y1="885.4" x2="1425.8" y2="885.4" stroke="#2b2a29" stroke-width="1.05" />
<line x1="1376.5" y1="827.2" x2="1388" y2="827.2" stroke="#2b2a29" stroke-width="1.05" />
<line x1="1397" y1="827.2" x2="1408.5" y2="827.2" stroke="#2b2a29" stroke-width="1.05" />
<line x1="1415" y1="827.2" x2="1424.5" y2="827.2" stroke="#2b2a29" stroke-width="1.05" />
<line x1="1368" y1="845.9" x2="1378" y2="845.9" stroke="#2b2a29" stroke-width="1.05" />
<line x1="1386" y1="845.9" x2="1396" y2="845.9" stroke="#2b2a29" stroke-width="1.05" />
<line x1="1401.5" y1="845.9" x2="1403.5" y2="845.9" stroke="#2b2a29" stroke-width="1.05" />
<line x1="1393.1" y1="845.9" x2="1393.1" y2="934" stroke="#2b2a29" stroke-width="1.05" />
<polygon points="1393.1,845.9 1395.1,855.4 1391.1,855.4" fill="#2b2a29"/>
<polygon points="1393.1,885.4 1391.1,875.9 1395.1,875.9" fill="#2b2a29"/>
<line x1="1418" y1="827.2" x2="1418" y2="934" stroke="#2b2a29" stroke-width="1.05" />
<polygon points="1418,827.2 1420,836.7 1416,836.7" fill="#2b2a29"/>
<polygon points="1418,885.4 1416,875.9 1420,875.9" fill="#2b2a29"/>
<text x="1392" y="913" font-size="14.6" text-anchor="middle" transform="rotate(-90 1392 913)" fill="#2b2a29" >min 33</text>
<text x="1416.2" y="913" font-size="14.6" text-anchor="middle" transform="rotate(-90 1416.2 913)" fill="#2b2a29" >min 49</text>
<rect x="1485" y="669.6" width="184" height="209.6" rx="0" fill="#e3e3e3" stroke="#2b2a29" stroke-width="1.4" />
<path d="M1562.7,666.7 C1569,690 1577,705 1574,736 C1570,770 1553,790 1555.5,816 C1557,845 1561,865 1564.3,882.9 L1573.2,882.9 C1570,865 1566,845 1564.7,816 C1562.5,790 1579.5,770 1583.3,736 C1586,705 1578,690 1571.6,666.2 Z" fill="#fff"/>
<path d="M1562.7,666.7 C1569,690 1577,705 1574,736 C1570,770 1553,790 1555.5,816 C1557,845 1561,865 1564.3,882.9" fill="none" stroke="#2b2a29" stroke-width="1.3" stroke-linejoin="round" stroke-linecap="round" />
<path d="M1571.6,666.2 C1578,690 1586,705 1583.3,736 C1579.5,770 1562.5,790 1564.7,816 C1566,845 1570,865 1573.2,882.9" fill="none" stroke="#2b2a29" stroke-width="1.3" stroke-linejoin="round" stroke-linecap="round" />
<circle cx="1511.1" cy="697.4" r="4.5" fill="none" stroke="#2b2a29" stroke-width="1.15"/><line x1="1500.1" y1="697.4" x2="1511.1" y2="697.4" stroke="#2b2a29" stroke-width="1.05" /><line x1="1520.1" y1="697.4" x2="1524.1" y2="697.4" stroke="#2b2a29" stroke-width="1.05" /><line x1="1511.1" y1="683.9" x2="1511.1" y2="692.9" stroke="#2b2a29" stroke-width="1.05" /><line x1="1511.1" y1="704.4" x2="1511.1" y2="713.4" stroke="#2b2a29" stroke-width="1.05" />
<circle cx="1640.2" cy="697.4" r="4.5" fill="none" stroke="#2b2a29" stroke-width="1.15"/><line x1="1629.2" y1="697.4" x2="1640.2" y2="697.4" stroke="#2b2a29" stroke-width="1.05" /><line x1="1649.2" y1="697.4" x2="1653.2" y2="697.4" stroke="#2b2a29" stroke-width="1.05" />
<line x1="1650.8" y1="697.4" x2="1700" y2="697.4" stroke="#2b2a29" stroke-width="1.05" stroke-dasharray="10 10" stroke-dashoffset="0"/>
<circle cx="1511.1" cy="748.1" r="4.5" fill="none" stroke="#2b2a29" stroke-width="1.15"/><line x1="1500.1" y1="748.1" x2="1511.1" y2="748.1" stroke="#2b2a29" stroke-width="1.05" /><line x1="1520.1" y1="748.1" x2="1524.1" y2="748.1" stroke="#2b2a29" stroke-width="1.05" /><line x1="1511.1" y1="734.6" x2="1511.1" y2="743.6" stroke="#2b2a29" stroke-width="1.05" /><line x1="1511.1" y1="755.1" x2="1511.1" y2="764.1" stroke="#2b2a29" stroke-width="1.05" />
<circle cx="1640.2" cy="748.1" r="4.5" fill="none" stroke="#2b2a29" stroke-width="1.15"/><line x1="1629.2" y1="748.1" x2="1640.2" y2="748.1" stroke="#2b2a29" stroke-width="1.05" /><line x1="1649.2" y1="748.1" x2="1653.2" y2="748.1" stroke="#2b2a29" stroke-width="1.05" /><line x1="1640.2" y1="734.6" x2="1640.2" y2="743.6" stroke="#2b2a29" stroke-width="1.05" /><line x1="1640.2" y1="755.1" x2="1640.2" y2="764.1" stroke="#2b2a29" stroke-width="1.05" />
<line x1="1650.8" y1="748.1" x2="1700" y2="748.1" stroke="#2b2a29" stroke-width="1.05" stroke-dasharray="10 10" stroke-dashoffset="0"/>
<circle cx="1511.1" cy="798.2" r="4.5" fill="none" stroke="#2b2a29" stroke-width="1.15"/><line x1="1500.1" y1="798.2" x2="1511.1" y2="798.2" stroke="#2b2a29" stroke-width="1.05" /><line x1="1520.1" y1="798.2" x2="1524.1" y2="798.2" stroke="#2b2a29" stroke-width="1.05" /><line x1="1511.1" y1="784.7" x2="1511.1" y2="793.7" stroke="#2b2a29" stroke-width="1.05" /><line x1="1511.1" y1="805.2" x2="1511.1" y2="814.2" stroke="#2b2a29" stroke-width="1.05" />
<circle cx="1640.2" cy="798.2" r="4.5" fill="none" stroke="#2b2a29" stroke-width="1.15"/><line x1="1629.2" y1="798.2" x2="1640.2" y2="798.2" stroke="#2b2a29" stroke-width="1.05" /><line x1="1649.2" y1="798.2" x2="1653.2" y2="798.2" stroke="#2b2a29" stroke-width="1.05" /><line x1="1640.2" y1="784.7" x2="1640.2" y2="793.7" stroke="#2b2a29" stroke-width="1.05" /><line x1="1640.2" y1="805.2" x2="1640.2" y2="814.2" stroke="#2b2a29" stroke-width="1.05" />
<line x1="1650.8" y1="798.2" x2="1700" y2="798.2" stroke="#2b2a29" stroke-width="1.05" stroke-dasharray="10 10" stroke-dashoffset="0"/>
<line x1="1669" y1="879.2" x2="1700.7" y2="879.2" stroke="#2b2a29" stroke-width="1.05" />
<line x1="1696.3" y1="697.4" x2="1696.3" y2="879.2" stroke="#2b2a29" stroke-width="1.05" />
<polygon points="1696.3,697.4 1698.5,707.9 1694.1,707.9" fill="#2b2a29"/>
<polygon points="1696.3,748.1 1694.1,737.6 1698.5,737.6" fill="#2b2a29"/>
<polygon points="1696.3,748.1 1698.5,758.6 1694.1,758.6" fill="#2b2a29"/>
<polygon points="1696.3,798.2 1694.1,787.7 1698.5,787.7" fill="#2b2a29"/>
<polygon points="1696.3,798.2 1698.5,808.7 1694.1,808.7" fill="#2b2a29"/>
<polygon points="1696.3,879.2 1694.1,868.7 1698.5,868.7" fill="#2b2a29"/>
<text x="1691.2" y="723.2" font-size="15.5" text-anchor="middle" transform="rotate(-90 1691.2 723.2)" fill="#2b2a29" >32</text>
<text x="1691.2" y="772.7" font-size="15.5" text-anchor="middle" transform="rotate(-90 1691.2 772.7)" fill="#2b2a29" >32</text>
<text x="1691.2" y="835.2" font-size="15.8" text-anchor="middle" transform="rotate(-90 1691.2 835.2)" fill="#2b2a29" >47,5 min</text>
<line x1="1552.3" y1="627.4" x2="1622.2" y2="627.4" stroke="#2b2a29" stroke-width="1.05" />
<line x1="1622.2" y1="627.4" x2="1646.8" y2="724.8" stroke="#2b2a29" stroke-width="1.05" />
<polygon points="1639.13,693.24 1633.32,680.27 1637.97,679.08" fill="#2b2a29"/>
<polygon points="1641.27,701.56 1646.71,713.07 1642.06,714.27" fill="#2b2a29"/>
<text x="1564.8" y="623.7" font-size="18" text-anchor="start" font-weight="bold" fill="#2b2a29" font-style="italic">ø</text>
<text x="1575.4" y="623.7" font-size="17.5" text-anchor="start" fill="#2b2a29" >2</text>
<text x="1586.6" y="615.6" font-size="6.6" text-anchor="start" fill="#2b2a29" >+0,2</text>
<text x="1587.4" y="622.7" font-size="6.6" text-anchor="start" fill="#2b2a29" >-0,1</text>
<text x="1552.3" y="640.5" font-size="14.4" text-anchor="start" fill="#2b2a29" >4 отв. h12</text>
<polygon points="636.6,205.4 642.3,201.1 829.2,307.9 829.2,361 823.5,365.3 636.6,257.3" fill="#fff" stroke="#2b2a29" stroke-width="1.15" stroke-linejoin="round" /><polygon points="636.6,205.4 823.5,312.2 823.5,365.3 636.6,257.3" fill="#fff" stroke="#2b2a29" stroke-width="1.15" stroke-linejoin="round" /><line x1="823.5" y1="312.2" x2="829.2" y2="307.9" stroke="#2b2a29" stroke-width="1.15" />
<text transform="translate(663.5 253.6) rotate(30)" font-size="20.5" fill="#2b2a29">задняя стенка</text>
<polygon points="217.3,477.3 224.2,473.2 458.3,608.6 458.3,680.4 451.4,684.5 217.3,548.8" fill="#fff" stroke="#2b2a29" stroke-width="1.15" stroke-linejoin="round" /><polygon points="217.3,477.3 451.4,612.7 451.4,684.5 217.3,548.8" fill="#fff" stroke="#2b2a29" stroke-width="1.15" stroke-linejoin="round" /><line x1="451.4" y1="612.7" x2="458.3" y2="608.6" stroke="#2b2a29" stroke-width="1.15" />
<text transform="translate(286.2 562.8) rotate(30)" font-size="20.3" fill="#2b2a29">фасад</text>
<polygon points="365,414.2 551.6,306.2 742.2,416.7 742.2,424.1 556.6,530.7 365,421.2" fill="#fff" stroke="#2b2a29" stroke-width="1.08" stroke-linejoin="round" />
<polygon points="365,414.2 551.6,306.2 742.2,416.7 556.6,523.3" fill="#fff" stroke="#2b2a29" stroke-width="1.08" stroke-linejoin="round" />
<line x1="556.6" y1="523.3" x2="556.6" y2="530.7" stroke="#2b2a29" stroke-width="1.08" />
<text transform="matrix(0.866 0.5 -0.866 0.5 546.8 412.6)" font-size="19.2" text-anchor="middle" fill="#2b2a29">дно</text>
<polygon points="588.5,169.2 595.8,165.1 605.8,170.7 598.9,174.8" fill="#fff" stroke="#2b2a29" stroke-width="1.3" stroke-linejoin="round" />
<polygon points="588.5,169.2 598.9,174.8 598.9,219.9 590.5,214.6 588.5,212.4" fill="#fff" stroke="#2b2a29" stroke-width="1.3" stroke-linejoin="round" />
<polygon points="598.9,174.8 605.8,170.7 605.8,216 598.9,219.9" fill="#fff" stroke="#2b2a29" stroke-width="1.3" stroke-linejoin="round" />
<line x1="598.9" y1="174.8" x2="598.9" y2="219.9" stroke="#2b2a29" stroke-width="1.6" />
<polygon points="605.8,170.7 613.1,175.1 613.1,219.3 605.8,216" fill="#fff" stroke="#2b2a29" stroke-width="1.3" stroke-linejoin="round" />
<line x1="606.2" y1="170.7" x2="606.2" y2="216" stroke="#2b2a29" stroke-width="2.2" />
<ellipse cx="609.6" cy="180.8" rx="1.2" ry="1.7" fill="#fff" stroke="#2b2a29" stroke-width="1.2"/>
<ellipse cx="609.6" cy="195.3" rx="1.2" ry="1.7" fill="#fff" stroke="#2b2a29" stroke-width="1.2"/>
<ellipse cx="609.6" cy="209.7" rx="1.2" ry="1.7" fill="#fff" stroke="#2b2a29" stroke-width="1.2"/>
<ellipse cx="602.4" cy="207.7" rx="1" ry="1.4" fill="#444" stroke="#2b2a29" stroke-width="0.8"/>
<polygon points="877.4,328.5 894.4,337.9 887.1,340.9 876.8,335.7" fill="#fff" stroke="#2b2a29" stroke-width="1.3" stroke-linejoin="round" />
<polygon points="877.4,328.5 884,331.8 876.8,335.7" fill="#fff" stroke="#2b2a29" stroke-width="1.3" stroke-linejoin="round" />
<polygon points="876.8,335.7 887.1,340.9 887.1,385.4 876.8,380.7" fill="#fff" stroke="#2b2a29" stroke-width="1.3" stroke-linejoin="round" />
<polygon points="887.1,340.9 891.9,339 891.9,371.9 888.2,374 890.3,376.5 890.3,383 887.1,385.4" fill="#fff" stroke="#2b2a29" stroke-width="1.3" stroke-linejoin="round" />
<line x1="886.9" y1="340.9" x2="886.9" y2="385.4" stroke="#2b2a29" stroke-width="1.9" />
<polygon points="245.6,289.6 434.8,181.1 435.5,231.4 251.9,336.9 251.9,339.5 245.6,342.8" fill="#fff" stroke="#2b2a29" stroke-width="1.4" stroke-linejoin="round" />
<line x1="251.2" y1="291.9" x2="434.6" y2="186.2" stroke="#2b2a29" stroke-width="1.4" />
<line x1="251" y1="291.5" x2="251" y2="337" stroke="#2b2a29" stroke-width="1.5" />
<line x1="248.6" y1="291" x2="248.6" y2="340.5" stroke="#666" stroke-width="0.8" />
<line x1="245.6" y1="337.5" x2="251" y2="334.5" stroke="#555" stroke-width="0.8" />
<polygon points="251.9,336.9 435.5,231.4 441.4,235.5 441.4,242.1 447.3,238.4 454.7,242.6 454.7,244.4 261.9,352.3 256,348.8 253.5,343" fill="#fff" stroke="#2b2a29" stroke-width="1.4" stroke-linejoin="round" />
<line x1="258.2" y1="341.4" x2="441.4" y2="235.5" stroke="#2b2a29" stroke-width="1.35" />
<line x1="258.2" y1="346.5" x2="441.4" y2="242.1" stroke="#2b2a29" stroke-width="2" />
<line x1="261.9" y1="352.3" x2="454.7" y2="244.4" stroke="#2b2a29" stroke-width="2" />
<line x1="251.9" y1="336.9" x2="258.2" y2="341.4" stroke="#2b2a29" stroke-width="1.4" />
<line x1="258.2" y1="341.4" x2="258.2" y2="346.5" stroke="#2b2a29" stroke-width="1.4" />
<line x1="256" y1="348.8" x2="261.9" y2="352.3" stroke="#2b2a29" stroke-width="1.8" />
<line x1="441.4" y1="242.1" x2="447.3" y2="238.4" stroke="#2b2a29" stroke-width="1.3" />
<line x1="447.3" y1="238.4" x2="454.7" y2="242.6" stroke="#2b2a29" stroke-width="1.3" />
<rect x="435.5" y="178.4" width="7.3" height="51.4" rx="1.2" fill="#3a3938" stroke="#2b2a29" stroke-width="0.8" />
<rect x="436.6" y="186" width="2.4" height="3.4" rx="0" fill="#ddd" stroke="#2b2a29" stroke-width="0" />
<rect x="439.8" y="189.4" width="1.8" height="3" rx="0" fill="#ccc" stroke="#2b2a29" stroke-width="0" />
<rect x="436.6" y="195.5" width="2.4" height="3.4" rx="0" fill="#ddd" stroke="#2b2a29" stroke-width="0" />
<rect x="439.8" y="198.9" width="1.8" height="3" rx="0" fill="#ccc" stroke="#2b2a29" stroke-width="0" />
<rect x="436.6" y="205" width="2.4" height="3.4" rx="0" fill="#ddd" stroke="#2b2a29" stroke-width="0" />
<rect x="439.8" y="208.4" width="1.8" height="3" rx="0" fill="#ccc" stroke="#2b2a29" stroke-width="0" />
<rect x="438.2" y="219" width="2" height="4.2" rx="0" fill="#fff" stroke="#2b2a29" stroke-width="0" />
<polygon points="435.5,231.4 439.9,228.5 447.3,230.3 441.4,233.6" fill="#fff" stroke="#2b2a29" stroke-width="1.4" stroke-linejoin="round" />
<polygon points="441.4,233.6 447.3,230.3 447.3,238.4 441.4,242.1" fill="#fff" stroke="#2b2a29" stroke-width="1.4" stroke-linejoin="round" />
<polygon points="255.3,298.7 271.8,292.5 271.8,306.2 255.3,313.7" fill="#3a3938" stroke="#2b2a29" stroke-width="0.6" stroke-linejoin="round" />
<polygon points="260.5,303.6 266.5,301 266.5,303 260.5,305.6" fill="#fff" stroke="#2b2a29" stroke-width="0" stroke-linejoin="round" />
<polygon points="261,298.8 262,298.4 262,300.8 261,301.2" fill="#ddd" stroke="#2b2a29" stroke-width="0" stroke-linejoin="round" />
<polygon points="267.8,295.6 269,295.1 269,297.3 267.8,297.8" fill="#ddd" stroke="#2b2a29" stroke-width="0" stroke-linejoin="round" />
<polygon points="260,309 263,307.7 263,308.7 260,310" fill="#bbb" stroke="#2b2a29" stroke-width="0" stroke-linejoin="round" />
<polygon points="272,337 284.99,329.5 284.99,333.1 272,340.6" fill="#3a3938" stroke="#2b2a29" stroke-width="0.5" stroke-linejoin="round" />
<polygon points="288.5,332 297.16,327 297.16,330.6 288.5,335.6" fill="#3a3938" stroke="#2b2a29" stroke-width="0.5" stroke-linejoin="round" />
<polygon points="266,339.7 270.33,337.2 270.33,340.4 266,342.9" fill="#3a3938" stroke="#2b2a29" stroke-width="0.5" stroke-linejoin="round" />
<polygon points="280.5,338 287.43,334 287.43,337 280.5,341" fill="#3a3938" stroke="#2b2a29" stroke-width="0.5" stroke-linejoin="round" />
<polygon points="290,332.5 297.79,328 297.79,331.4 290,335.9" fill="#3a3938" stroke="#2b2a29" stroke-width="0.5" stroke-linejoin="round" />
<polygon points="277.5,340.6 285.5,336 288.8,337.6 280.5,342.6" fill="#fff" stroke="#2b2a29" stroke-width="1.1" stroke-linejoin="round" />
<ellipse cx="253.5" cy="343.2" rx="1.4" ry="1.2" fill="#3a3938" stroke="#2b2a29" stroke-width="0.5"/>
<ellipse cx="259.5" cy="341.3" rx="1.4" ry="1.2" fill="#3a3938" stroke="#2b2a29" stroke-width="0.5"/>
<ellipse cx="266.2" cy="347.3" rx="1.4" ry="1.2" fill="#3a3938" stroke="#2b2a29" stroke-width="0.5"/>
<ellipse cx="266.2" cy="347.3" rx="1.6" ry="1.2" fill="#fff" stroke="#2b2a29" stroke-width="1"/>
<polygon points="331.76,306.05 337.39,302.8 337.39,306 331.76,309.25" fill="#3a3938" stroke="#2b2a29" stroke-width="0.5" stroke-linejoin="round" />
<ellipse cx="327" cy="310.8" rx="1.5" ry="1.2" fill="#fff" stroke="#2b2a29" stroke-width="1.1"/>
<polygon points="376.26,281.25 381.89,278 381.89,281.2 376.26,284.45" fill="#3a3938" stroke="#2b2a29" stroke-width="0.5" stroke-linejoin="round" />
<ellipse cx="371.5" cy="286" rx="1.5" ry="1.2" fill="#fff" stroke="#2b2a29" stroke-width="1.1"/>
<polygon points="433.76,247.85 439.39,244.6 439.39,247.8 433.76,251.05" fill="#3a3938" stroke="#2b2a29" stroke-width="0.5" stroke-linejoin="round" />
<ellipse cx="429" cy="252.6" rx="1.5" ry="1.2" fill="#fff" stroke="#2b2a29" stroke-width="1.1"/>
<ellipse cx="284.48" cy="327.6" rx="0.9" ry="0.8" fill="#3a3938" stroke="#2b2a29" stroke-width="0.3"/>
<ellipse cx="298.34" cy="319.6" rx="0.9" ry="0.8" fill="#3a3938" stroke="#2b2a29" stroke-width="0.3"/>
<ellipse cx="324.32" cy="304.6" rx="0.9" ry="0.8" fill="#3a3938" stroke="#2b2a29" stroke-width="0.3"/>
<ellipse cx="338.17" cy="296.6" rx="0.9" ry="0.8" fill="#3a3938" stroke="#2b2a29" stroke-width="0.3"/>
<ellipse cx="361.56" cy="283.1" rx="0.9" ry="0.8" fill="#3a3938" stroke="#2b2a29" stroke-width="0.3"/>
<ellipse cx="375.41" cy="275.1" rx="0.9" ry="0.8" fill="#3a3938" stroke="#2b2a29" stroke-width="0.3"/>
<ellipse cx="398.8" cy="261.6" rx="0.9" ry="0.8" fill="#3a3938" stroke="#2b2a29" stroke-width="0.3"/>
<ellipse cx="412.65" cy="253.6" rx="0.9" ry="0.8" fill="#3a3938" stroke="#2b2a29" stroke-width="0.3"/>
<ellipse cx="427.37" cy="245.1" rx="0.9" ry="0.8" fill="#3a3938" stroke="#2b2a29" stroke-width="0.3"/>
<ellipse cx="434.3" cy="241.1" rx="0.9" ry="0.8" fill="#3a3938" stroke="#2b2a29" stroke-width="0.3"/>
<polygon points="416.7,309.9 443.37,294.5 445.77,295.8 445.77,320.8 416.7,334.9" fill="#fff" stroke="#2b2a29" stroke-width="1.1" stroke-linejoin="round" /><polygon points="416.7,310.5 443.37,294.9 443.37,297.9 416.7,313.5" fill="#3a3938" stroke="#2b2a29" stroke-width="0.5" stroke-linejoin="round" /><path d="M419.47,313.5 L428.65,308.2 L428.65,310.6 L419.47,315.9 Z" fill="#3a3938" stroke="#3a3938" stroke-width="1.6" stroke-linejoin="round"/><path d="M431.6,306.5 L440.78,301.2 L440.78,303.6 L431.6,308.9 Z" fill="#3a3938" stroke="#3a3938" stroke-width="1.6" stroke-linejoin="round"/><path d="M419.47,320.3 L428.65,315 L428.65,317.4 L419.47,322.7 Z" fill="#3a3938" stroke="#3a3938" stroke-width="1.6" stroke-linejoin="round"/><path d="M431.6,313.3 L440.78,308 L440.78,310.4 L431.6,315.7 Z" fill="#3a3938" stroke="#3a3938" stroke-width="1.6" stroke-linejoin="round"/>
<polygon points="358.8,354.8 527.7,258.7 534.5,262.6 534.5,268.7 357,371 357,363.6" fill="#fff" stroke="#2b2a29" stroke-width="1.4" stroke-linejoin="round" />
<line x1="357" y1="363.6" x2="524.6" y2="265.6" stroke="#2b2a29" stroke-width="1.7" stroke-dasharray="1.1 0.7"/>
<polygon points="524.8,260.6 528.3,258.6 534.5,262.3 531,264.6" fill="#3a3938" stroke="#2b2a29" stroke-width="0.6" stroke-linejoin="round" />
<line x1="524.6" y1="265.6" x2="531" y2="264.6" stroke="#2b2a29" stroke-width="0.9" />
<polygon points="456,316.1 502.1,289.9 504.6,292.4 461,318" fill="#fff" stroke="#2b2a29" stroke-width="1.4" stroke-linejoin="round" />
<rect x="501.8" y="288.8" width="2.6" height="4" rx="0" fill="#3a3938" stroke="#2b2a29" stroke-width="0.4" />
<polygon points="336.6,382.8 357,371 461,316.7 461.6,323.6 341.4,392.1" fill="#fff" stroke="#2b2a29" stroke-width="1.4" stroke-linejoin="round" />
<line x1="341.4" y1="392.1" x2="461.6" y2="323.6" stroke="#2b2a29" stroke-width="1.8" />
<line x1="357.7" y1="367.3" x2="385" y2="352.3" stroke="#2b2a29" stroke-width="0.9" />
<line x1="357.7" y1="369.6" x2="386" y2="354.2" stroke="#2b2a29" stroke-width="0.9" />
<line x1="385" y1="352.3" x2="386" y2="354.2" stroke="#2b2a29" stroke-width="0.9" />
<line x1="387.4" y1="356" x2="457.3" y2="319.8" stroke="#3a3938" stroke-width="2.7" stroke-dasharray="1.3 0.5"/>
<line x1="437" y1="327.5" x2="456" y2="316.8" stroke="#3a3938" stroke-width="2.6" />
<line x1="358" y1="375.6" x2="395" y2="355.5" stroke="#555" stroke-width="0.8" />
<rect x="425" y="325.5" width="2" height="3.5" rx="0" fill="#3a3938" stroke="#2b2a29" stroke-width="0.3" />
<rect x="454.2" y="323" width="2" height="3" rx="0" fill="#3a3938" stroke="#2b2a29" stroke-width="0.3" />
<rect x="372" y="360.6" width="2.2" height="2.4" rx="0" fill="#3a3938" stroke="#2b2a29" stroke-width="0.3" />
<polygon points="330.3,360.1 356.97,344.7 359.37,346 358.8,354.8 357,363.6 357,371 336.6,382.8 341.4,388.6 341.4,392.1 330.4,385.1" fill="#fff" stroke="#2b2a29" stroke-width="1.1" stroke-linejoin="round" /><polygon points="330.3,360.7 356.97,345.1 356.97,348.1 330.3,363.7" fill="#3a3938" stroke="#2b2a29" stroke-width="0.5" stroke-linejoin="round" /><path d="M333.07,363.7 L342.25,358.4 L342.25,360.8 L333.07,366.1 Z" fill="#3a3938" stroke="#3a3938" stroke-width="1.6" stroke-linejoin="round"/><path d="M345.2,356.7 L354.38,351.4 L354.38,353.8 L345.2,359.1 Z" fill="#3a3938" stroke="#3a3938" stroke-width="1.6" stroke-linejoin="round"/><path d="M333.07,370.5 L342.25,365.2 L342.25,367.6 L333.07,372.9 Z" fill="#3a3938" stroke="#3a3938" stroke-width="1.6" stroke-linejoin="round"/><path d="M345.2,363.5 L354.38,358.2 L354.38,360.6 L345.2,365.9 Z" fill="#3a3938" stroke="#3a3938" stroke-width="1.6" stroke-linejoin="round"/>
<line x1="330.4" y1="360.3" x2="330.4" y2="385.1" stroke="#2b2a29" stroke-width="1.5" />
<line x1="330.4" y1="385.1" x2="341.4" y2="392.1" stroke="#2b2a29" stroke-width="1.8" />
<line x1="335.5" y1="381.4" x2="335.5" y2="387.8" stroke="#2b2a29" stroke-width="1.1" />
<line x1="333" y1="383.4" x2="336.6" y2="382.8" stroke="#2b2a29" stroke-width="0.9" />
<polygon points="338.1,371.6 355.5,366.3 355.5,371.4 338.1,377.4" fill="#3a3938" stroke="#2b2a29" stroke-width="0.5" stroke-linejoin="round" />
<polygon points="341,373.3 352.5,369.7 352.5,370.9 341,374.6" fill="#eee" stroke="#2b2a29" stroke-width="0" stroke-linejoin="round" />
<line x1="337.5" y1="379.6" x2="356.5" y2="369.5" stroke="#2b2a29" stroke-width="0.9" />
<ellipse cx="342.2" cy="389" rx="1.2" ry="0.9" fill="#3a3938" stroke="#2b2a29" stroke-width="0.3"/>
<ellipse cx="345.8" cy="387" rx="1.2" ry="0.9" fill="#3a3938" stroke="#2b2a29" stroke-width="0.3"/>
<ellipse cx="349.5" cy="385" rx="1.2" ry="0.9" fill="#3a3938" stroke="#2b2a29" stroke-width="0.3"/>
<polygon points="610.6,522.3 785.8,420.6 796,423.4 796,431 638.38,522 638.38,514.4" fill="#fff" stroke="#2b2a29" stroke-width="1.4" stroke-linejoin="round" />
<line x1="637.18" y1="515" x2="794.8" y2="424" stroke="#2b2a29" stroke-width="1.8" stroke-dasharray="1.1 0.7"/>
<polygon points="783.5,421 787.5,419.4 790.5,421 786.8,423.2" fill="#3a3938" stroke="#2b2a29" stroke-width="0.5" stroke-linejoin="round" />
<polygon points="723.8,473.2 762.1,451 765.4,452.7 765.4,454.6 725,477.3" fill="#fff" stroke="#2b2a29" stroke-width="1.4" stroke-linejoin="round" />
<line x1="724.5" y1="475" x2="764.8" y2="452.6" stroke="#666" stroke-width="0.8" />
<polygon points="636.5,523 696,491 696,497.5 638,530.5" fill="#fff" stroke="#2b2a29" stroke-width="1.4" stroke-linejoin="round" />
<line x1="637.5" y1="526" x2="696" y2="494" stroke="#666" stroke-width="0.8" />
<line x1="651" y1="523.5" x2="696" y2="498.5" stroke="#3a3938" stroke-width="6" />
<polygon points="647.5,517.5 652,515 653.5,524.5 649,527" fill="#fff" stroke="#2b2a29" stroke-width="1" stroke-linejoin="round" />
<polygon points="660.5,521.5 671,515.5 671,519.5 660.5,525.5" fill="#fff" stroke="#2b2a29" stroke-width="1" stroke-linejoin="round" />
<polygon points="696,478.6 722.67,463.2 725.07,464.5 725.07,489.5 696,503.6" fill="#fff" stroke="#2b2a29" stroke-width="1.1" stroke-linejoin="round" /><polygon points="696,479.2 722.67,463.6 722.67,466.6 696,482.2" fill="#3a3938" stroke="#2b2a29" stroke-width="0.5" stroke-linejoin="round" /><path d="M698.77,482.2 L707.95,476.9 L707.95,479.3 L698.77,484.6 Z" fill="#3a3938" stroke="#3a3938" stroke-width="1.6" stroke-linejoin="round"/><path d="M710.9,475.2 L720.08,469.9 L720.08,472.3 L710.9,477.6 Z" fill="#3a3938" stroke="#3a3938" stroke-width="1.6" stroke-linejoin="round"/><path d="M698.77,489 L707.95,483.7 L707.95,486.1 L698.77,491.4 Z" fill="#3a3938" stroke="#3a3938" stroke-width="1.6" stroke-linejoin="round"/><path d="M710.9,482 L720.08,476.7 L720.08,479.1 L710.9,484.4 Z" fill="#3a3938" stroke="#3a3938" stroke-width="1.6" stroke-linejoin="round"/>
<polygon points="704.5,494.5 719,486.5 719,492.5 704.5,501" fill="#fff" stroke="#2b2a29" stroke-width="1" stroke-linejoin="round" />
<rect x="707.5" y="494" width="2" height="3" rx="0" fill="#3a3938" stroke="#2b2a29" stroke-width="0" />
<rect x="713" y="490" width="2.5" height="3.5" rx="0" fill="#3a3938" stroke="#2b2a29" stroke-width="0" />
<polygon points="596.8,542.5 607.9,536.2 610.5,537.5 610.5,555 608.7,555.8 596.8,547.3" fill="#fff" stroke="#2b2a29" stroke-width="1.4" stroke-linejoin="round" />
<path d="M596.8,542.5 L599.2,544.2 L599.2,549 M599.2,544.2 L610,538.2 M602.5,546 L602.5,551.3 M604.8,544.6 L604.8,553" fill="none" stroke="#2b2a29" stroke-width="1" stroke-linejoin="round" stroke-linecap="round" />
<line x1="596.8" y1="547.3" x2="608.7" y2="555.8" stroke="#2b2a29" stroke-width="1.7" />
<polygon points="610.5,522.5 635.3,514.4 637.7,515.7 636.4,540.3 609.4,555.1 608.7,530" fill="#fff" stroke="#2b2a29" stroke-width="1.1" stroke-linejoin="round" /><polygon points="610.5,523.1 635.3,514.8 635.3,517.8 610.5,526.1" fill="#3a3938" stroke="#2b2a29" stroke-width="0.5" stroke-linejoin="round" /><path d="M613.54,526.71 L623.62,523.42 L623.62,525.82 L613.54,529.11 Z" fill="#3a3938" stroke="#3a3938" stroke-width="1.6" stroke-linejoin="round"/><path d="M626.85,522.36 L636.93,519.07 L636.93,521.47 L626.85,524.76 Z" fill="#3a3938" stroke="#3a3938" stroke-width="1.6" stroke-linejoin="round"/><path d="M613.54,533.51 L623.62,530.22 L623.62,532.62 L613.54,535.91 Z" fill="#3a3938" stroke="#3a3938" stroke-width="1.6" stroke-linejoin="round"/><path d="M626.85,529.16 L636.93,525.87 L636.93,528.27 L626.85,531.56 Z" fill="#3a3938" stroke="#3a3938" stroke-width="1.6" stroke-linejoin="round"/>
<polygon points="617.5,541.5 632,533.8 632,540 617.5,548" fill="#fff" stroke="#2b2a29" stroke-width="1" stroke-linejoin="round" />
<rect x="620.5" y="540.7" width="2.2" height="3.2" rx="0" fill="#3a3938" stroke="#2b2a29" stroke-width="0" />
<rect x="626.3" y="536.8" width="2.6" height="3.6" rx="0" fill="#3a3938" stroke="#2b2a29" stroke-width="0" />
<line x1="612.5" y1="544" x2="612.5" y2="552.5" stroke="#2b2a29" stroke-width="1" />
<polygon points="666,563.4 851.9,456.9 857.5,453.8 863.1,455.3 863.1,509.8 671,618.3 666,613.5" fill="#fff" stroke="#2b2a29" stroke-width="1.4" stroke-linejoin="round" />
<line x1="671" y1="568" x2="671" y2="618.3" stroke="#2b2a29" stroke-width="1.4" />
<line x1="668.5" y1="566.5" x2="668.5" y2="615.5" stroke="#666" stroke-width="0.8" />
<line x1="671" y1="566" x2="858" y2="459.2" stroke="#2b2a29" stroke-width="1.4" />
<line x1="671" y1="568.6" x2="858" y2="461.8" stroke="#2b2a29" stroke-width="1.2" />
<line x1="666" y1="563.4" x2="671" y2="566" stroke="#2b2a29" stroke-width="1.4" />
<polygon points="852.2,456.8 857.6,453.6 863.1,455.5 863.1,460 858,461.5 858,459" fill="#fff" stroke="#2b2a29" stroke-width="1" stroke-linejoin="round" />
<polygon points="857,454 859.8,452.8 862.6,454.3 860,455.6" fill="#3a3938" stroke="#2b2a29" stroke-width="0.4" stroke-linejoin="round" />
<line x1="668" y1="580" x2="668" y2="612" stroke="#555" stroke-width="1.6" />
<polygon points="655,606.5 661,603.5 666,606.3 666,613.5 661,611 659,612.4 655,609.5" fill="#fff" stroke="#2b2a29" stroke-width="1.4" stroke-linejoin="round" />
<path d="M253.9,423.4 L262.4,418.4 Q266.8,418.6 266.6,423.4 Q266.4,426.8 264,427.8 L254.6,433.9 Z" fill="#fff" stroke="#2b2a29" stroke-width="1.3" stroke-linejoin="round" stroke-linecap="round" /><ellipse cx="264.6" cy="423.4" rx="1.4" ry="2" fill="#2f2e2d" stroke="#2b2a29" stroke-width="0.5"/><ellipse cx="256.8" cy="427" rx="3.2" ry="3.4" fill="#2f2e2d" stroke="#2b2a29" stroke-width="0.5"/><polygon points="247.3,422.2 250.3,419.5 254.6,422 254.6,453 251.3,455.5 247.3,453" fill="#2f2e2d" stroke="#2b2a29" stroke-width="0.8" stroke-linejoin="round" /><rect x="248.9" y="425.8" width="1.9" height="12" rx="0" fill="#fff" stroke="#2b2a29" stroke-width="0" /><rect x="248.9" y="441.5" width="1.9" height="11.2" rx="0" fill="#fff" stroke="#2b2a29" stroke-width="0" /><rect x="252.3" y="424" width="1.2" height="14" rx="0" fill="#bbb" stroke="#2b2a29" stroke-width="0" />
<g transform="translate(283.4 164)"><path d="M253.9,423.4 L262.4,418.4 Q266.8,418.6 266.6,423.4 Q266.4,426.8 264,427.8 L254.6,433.9 Z" fill="#fff" stroke="#2b2a29" stroke-width="1.3" stroke-linejoin="round" stroke-linecap="round" /><ellipse cx="264.6" cy="423.4" rx="1.4" ry="2" fill="#2f2e2d" stroke="#2b2a29" stroke-width="0.5"/><ellipse cx="256.8" cy="427" rx="3.2" ry="3.4" fill="#2f2e2d" stroke="#2b2a29" stroke-width="0.5"/><polygon points="247.3,422.2 250.3,419.5 254.6,422 254.6,453 251.3,455.5 247.3,453" fill="#2f2e2d" stroke="#2b2a29" stroke-width="0.8" stroke-linejoin="round" /><rect x="248.9" y="425.8" width="1.9" height="12" rx="0" fill="#fff" stroke="#2b2a29" stroke-width="0" /><rect x="248.9" y="441.5" width="1.9" height="11.2" rx="0" fill="#fff" stroke="#2b2a29" stroke-width="0" /><rect x="252.3" y="424" width="1.2" height="14" rx="0" fill="#bbb" stroke="#2b2a29" stroke-width="0" /></g>
<polygon points="295.5,357.9 312.3,348.6 313.8,349.8 313.8,362.9 296.1,372.5 295.5,371.7" fill="#fff" stroke="#2b2a29" stroke-width="1.3" stroke-linejoin="round" />
<line x1="297.4" y1="367.3" x2="303" y2="364.2" stroke="#2b2a29" stroke-width="0.9" />
<polygon points="637.3,569.7 654.3,560.4 655.6,562.2 655.6,574.7 638.6,583.9 637.3,582.1" fill="#fff" stroke="#2b2a29" stroke-width="1.3" stroke-linejoin="round" />
<circle cx="641" cy="575.5" r="0.8" fill="#444" stroke="#2b2a29" stroke-width="0.3"/>
<circle cx="650.5" cy="566.2" r="0.8" fill="#444" stroke="#2b2a29" stroke-width="0.3"/>
<circle cx="652.5" cy="569.6" r="0.8" fill="#444" stroke="#2b2a29" stroke-width="0.3"/>
<circle cx="642.5" cy="579.5" r="0.8" fill="#444" stroke="#2b2a29" stroke-width="0.3"/>
<line x1="405.3" y1="183.7" x2="405.3" y2="215.5" stroke="#444" stroke-width="1.05" />
<line x1="516.1" y1="232.6" x2="516.1" y2="266.5" stroke="#444" stroke-width="1.05" />
<line x1="613.6" y1="176.9" x2="750.9" y2="212.9" stroke="#2b2a29" stroke-width="1.05" />
<line x1="779.1" y1="224.8" x2="878.1" y2="328.9" stroke="#2b2a29" stroke-width="1.05" />
<line x1="253.6" y1="437.4" x2="392.1" y2="511" stroke="#2b2a29" stroke-width="1.05" />
<line x1="419.6" y1="528.5" x2="530.6" y2="597.1" stroke="#2b2a29" stroke-width="1.05" />
<line x1="863.1" y1="509.8" x2="899.3" y2="509.8" stroke="#2b2a29" stroke-width="1.05" />
<line x1="612.4" y1="554.7" x2="612.4" y2="579.6" stroke="#2b2a29" stroke-width="1.05" />
<line x1="646.1" y1="574.7" x2="642.3" y2="602.1" stroke="#2b2a29" stroke-width="1.05" />
<line x1="289.9" y1="373.5" x2="295.5" y2="369.8" stroke="#2b2a29" stroke-width="1.05" />
<ellipse cx="404" cy="169.3" rx="16.8" ry="14.3" fill="#d6d7d7" stroke="#2b2a29" stroke-width="0"/><text x="404" y="175.9" font-size="18.6" text-anchor="middle" font-weight="bold" fill="#2b2a29" >3</text>
<ellipse cx="516.9" cy="218.7" rx="16.8" ry="14.3" fill="#d6d7d7" stroke="#2b2a29" stroke-width="0"/><text x="516.9" y="225.3" font-size="18.6" text-anchor="middle" font-weight="bold" fill="#2b2a29" >1</text>
<ellipse cx="767.6" cy="213.9" rx="16.8" ry="14.3" fill="#d6d7d7" stroke="#2b2a29" stroke-width="0"/><text x="767.6" y="220.5" font-size="18.6" text-anchor="middle" font-weight="bold" fill="#2b2a29" >2</text>
<ellipse cx="275.2" cy="381.4" rx="16.8" ry="14.3" fill="#d6d7d7" stroke="#2b2a29" stroke-width="0"/><text x="275.2" y="388" font-size="18.6" text-anchor="middle" font-weight="bold" fill="#2b2a29" >5</text>
<ellipse cx="405.8" cy="519.3" rx="16.8" ry="14.3" fill="#d6d7d7" stroke="#2b2a29" stroke-width="0"/><text x="405.8" y="525.9" font-size="18.6" text-anchor="middle" font-weight="bold" fill="#2b2a29" >4</text>
<ellipse cx="916.3" cy="510.3" rx="16.8" ry="14.3" fill="#d6d7d7" stroke="#2b2a29" stroke-width="0"/><text x="916.3" y="516.9" font-size="18.6" text-anchor="middle" font-weight="bold" fill="#2b2a29" >3</text>
<ellipse cx="612.4" cy="594.1" rx="16.8" ry="14.3" fill="#d6d7d7" stroke="#2b2a29" stroke-width="0"/><text x="612.4" y="600.7" font-size="18.6" text-anchor="middle" font-weight="bold" fill="#2b2a29" >1</text>
<ellipse cx="641.8" cy="616.6" rx="16.8" ry="14.3" fill="#d6d7d7" stroke="#2b2a29" stroke-width="0"/><text x="641.8" y="623.2" font-size="18.6" text-anchor="middle" font-weight="bold" fill="#2b2a29" >5</text>
</svg>
</body></html>
